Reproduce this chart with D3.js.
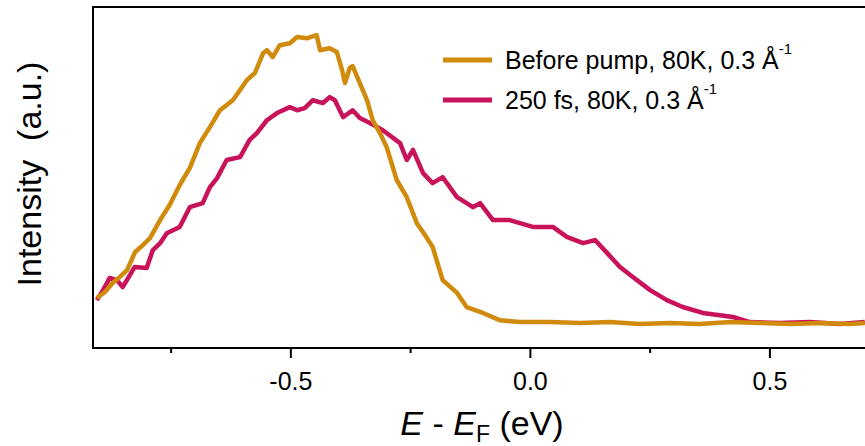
<!DOCTYPE html>
<html>
<head>
<meta charset="utf-8">
<script src="https://cdn.jsdelivr.net/npm/d3@7"></script>
<style>
  body { margin: 0; background: #fff; }
  svg { display: block; font-family: "Liberation Sans", Arial, sans-serif; }
</style>
</head>
<body>
<svg id="chart" width="865" height="446"></svg>
<script>
// energy (eV) and intensity (a.u.)
const beforeE = [-0.904, -0.887, -0.871, -0.856, -0.841, -0.824, -0.808, -0.793, -0.772, -0.752,
  -0.731, -0.710, -0.689, -0.668, -0.647, -0.620, -0.591, -0.574, -0.557, -0.549,
  -0.537, -0.522, -0.501, -0.486, -0.466, -0.445, -0.438, -0.418, -0.403, -0.392,
  -0.386, -0.376, -0.370, -0.355, -0.340, -0.328, -0.313, -0.299, -0.278, -0.257,
  -0.236, -0.219, -0.203, -0.182, -0.152, -0.132, -0.098, -0.063, -0.021, 0.042,
  0.104, 0.167, 0.230, 0.292, 0.355, 0.418, 0.480, 0.543, 0.605, 0.668, 0.699];
const beforeI = [0.160, 0.179, 0.208, 0.227, 0.249, 0.307, 0.329, 0.351, 0.409, 0.457,
  0.521, 0.575, 0.655, 0.706, 0.760, 0.792, 0.856, 0.879, 0.942, 0.952,
  0.930, 0.968, 0.974, 0.994, 0.990, 1.000, 0.952, 0.958, 0.946, 0.888,
  0.847, 0.895, 0.901, 0.847, 0.792, 0.728, 0.687, 0.642, 0.537, 0.482,
  0.399, 0.361, 0.323, 0.217, 0.176, 0.131, 0.112, 0.089, 0.083, 0.083,
  0.080, 0.083, 0.077, 0.080, 0.077, 0.083, 0.080, 0.077, 0.080, 0.077, 0.080];

const pumpE = [-0.904, -0.891, -0.877, -0.862, -0.850, -0.835, -0.825, -0.800, -0.787, -0.772,
  -0.758, -0.731, -0.710, -0.683, -0.668, -0.653, -0.633, -0.605, -0.585, -0.570,
  -0.549, -0.528, -0.501, -0.486, -0.470, -0.453, -0.432, -0.418, -0.407, -0.390,
  -0.370, -0.355, -0.334, -0.307, -0.271, -0.257, -0.244, -0.223, -0.203, -0.182,
  -0.152, -0.119, -0.104, -0.077, -0.042, 0.006, 0.048, 0.077, 0.111, 0.136,
  0.161, 0.188, 0.215, 0.251, 0.286, 0.319, 0.361, 0.424, 0.459, 0.522,
  0.585, 0.647, 0.699];
const pumpI = [0.153, 0.185, 0.224, 0.217, 0.195, 0.233, 0.259, 0.256, 0.313, 0.335,
  0.367, 0.387, 0.450, 0.463, 0.514, 0.543, 0.601, 0.610, 0.665, 0.687,
  0.728, 0.751, 0.770, 0.760, 0.767, 0.792, 0.783, 0.802, 0.792, 0.738,
  0.760, 0.735, 0.719, 0.696, 0.655, 0.601, 0.633, 0.559, 0.527, 0.546,
  0.482, 0.450, 0.463, 0.409, 0.409, 0.387, 0.387, 0.355, 0.335, 0.345,
  0.304, 0.259, 0.227, 0.185, 0.153, 0.131, 0.112, 0.099, 0.083, 0.080,
  0.083, 0.077, 0.083];

const seriesNames = ['Before pump, 80K, 0.3 Å', '250 fs, 80K, 0.3 Å'];
const seriesColors = ['#d08b0c', '#c8125a'];
const majorTicks = [-0.5, 0.0, 0.5];
const minorTicks = [-0.75, -0.25, 0.25];

const svg = d3.select('#chart');
const margin = {left: 93, top: 7, bottom: 348, right: 870};

const x = d3.scaleLinear().domain([-0.912, 0.71]).range([margin.left, margin.right]);
const y = d3.scaleLinear().domain([0, 1.09]).range([margin.bottom, margin.top]);

const series = [
  {name: seriesNames[0], color: seriesColors[0], pts: beforeE.map((e, i) => [e, beforeI[i]])},
  {name: seriesNames[1], color: seriesColors[1], pts: pumpE.map((e, i) => [e, pumpI[i]])}
];

const line = d3.line().x(d => x(d[0])).y(d => y(d[1]));

// draw pump curve first so the orange one sits on top at the tail
svg.selectAll('path.curve')
    .data(series.slice().reverse())
  .join('path')
    .attr('class', 'curve')
    .attr('d', d => line(d.pts))
    .attr('fill', 'none')
    .attr('stroke', d => d.color)
    .attr('stroke-width', 4.5)
    .attr('stroke-linejoin', 'round');

// frame
svg.append('path')
  .attr('d', `M${margin.right},${margin.top}H${margin.left}V${margin.bottom}H${margin.right}`)
  .attr('fill', 'none')
  .attr('stroke', '#000')
  .attr('stroke-width', 2);

const xAxis = svg.append('g')
  .attr('transform', `translate(0,${margin.bottom})`)
  .call(d3.axisBottom(x).tickValues(majorTicks).tickSize(10).tickPadding(14)
    .tickFormat(d3.format('.1f')));
xAxis.select('.domain').remove();
xAxis.selectAll('.tick line').attr('stroke-width', 2);
xAxis.selectAll('.tick text')
  .attr('font-size', 25)
  .attr('font-family', '"Liberation Sans", Arial, sans-serif')
  .attr('fill', '#000')
  .text(d => d3.format('.1f')(d).replace('−', '-'));

const xMinor = svg.append('g')
  .attr('transform', `translate(0,${margin.bottom})`)
  .call(d3.axisBottom(x).tickValues(minorTicks).tickSize(5).tickFormat(''));
xMinor.select('.domain').remove();
xMinor.selectAll('.tick line').attr('stroke-width', 2);

// axis titles
const xt = svg.append('text')
  .attr('x', 482).attr('y', 435)
  .attr('text-anchor', 'middle')
  .attr('font-size', 34);
xt.append('tspan').attr('font-style', 'italic').text('E');
xt.append('tspan').text(' - ');
xt.append('tspan').attr('font-style', 'italic').text('E');
xt.append('tspan').attr('font-size', 23).attr('dy', 7).text('F');
xt.append('tspan').attr('dy', -7).text(' (eV)');

svg.append('text')
  .attr('transform', 'translate(41,174) rotate(-90)')
  .attr('text-anchor', 'middle')
  .attr('font-size', 34)
  .attr('xml:space', 'preserve')
  .text('Intensity  (a.u.)');

// legend
const legend = svg.append('g')
  .selectAll('g')
  .data(series)
  .join('g')
    .attr('transform', (d, i) => `translate(443,${60 + i * 40})`);

legend.append('line')
  .attr('x1', 0).attr('x2', 49)
  .attr('stroke', d => d.color)
  .attr('stroke-width', 5);

const lt = legend.append('text')
  .attr('x', 62).attr('y', 9)
  .attr('font-size', 25);
lt.append('tspan').text(d => d.name);
lt.append('tspan').attr('font-size', 15).attr('dy', -15).text('-1');
</script>
</body>
</html>
